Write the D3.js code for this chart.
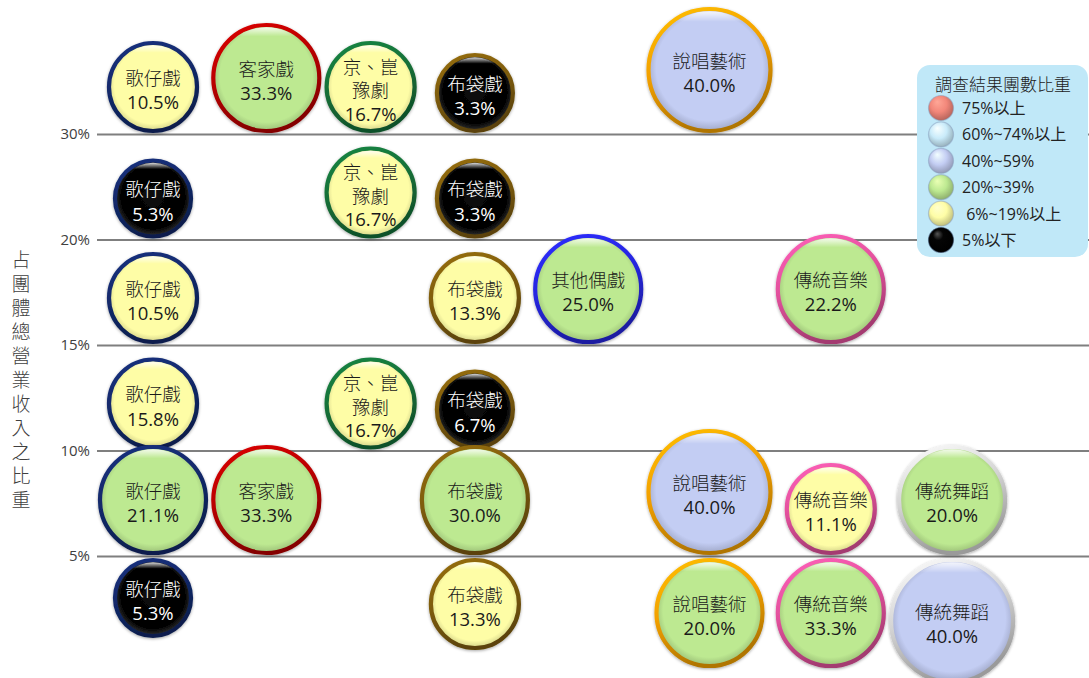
<!DOCTYPE html>
<html><head><meta charset="utf-8">
<script src="https://cdn.jsdelivr.net/npm/d3@7/dist/d3.min.js"></script>
<style>
html,body{margin:0;padding:0;background:#fff;}
svg{display:block;font-family:"Open Sans","Noto Sans CJK TC","Noto Sans",sans-serif;}
</style>
</head><body>
<svg id="chart" width="1089" height="678"></svg>
<script>
// ---------------- data ----------------
const genres = ["歌仔戲","客家戲","京、崑豫劇","布袋戲","其他偶戲","說唱藝術","傳統音樂","傳統舞蹈"];
const genreLines = [["歌仔戲"],["客家戲"],["京、崑","豫劇"],["布袋戲"],["其他偶戲"],["說唱藝術"],["傳統音樂"],["傳統舞蹈"]];
const bands = ["30%以上","20%~30%","15%~20%","10%~15%","5%~10%","5%以下"];
const tickLabels = ["30%","20%","15%","10%","5%"];
// share of groups (%) in each income band, top band first; null = no bubble
const gezaixi   = [10.5, 5.3, 10.5, 15.8, 21.1, 5.3];
const hakka     = [33.3, null, null, null, 33.3, null];
const pekingYu  = [16.7, 16.7, null, 16.7, null, null];
const budaixi   = [3.3, 3.3, 13.3, 6.7, 30.0, 13.3];
const otherPuppet = [null, null, 25.0, null, null, null];
const shuochang = [40.0, null, null, null, 40.0, 20.0];
const music     = [null, null, 22.2, null, 11.1, 33.3];
const dance     = [null, null, null, null, 20.0, 40.0];
const seriesValues = [gezaixi, hakka, pekingYu, budaixi, otherPuppet, shuochang, music, dance];
const legendTitle = "調查結果團數比重";
const legendLabels = ["75%以上","60%~74%以上","40%~59%","20%~39%"," 6%~19%以上","5%以下"];
const axisTitle = "占團體總營業收入之比重";

// ---------------- styles ----------------
const W = 1089, H = 678;
const plotLeft = 97;
const legendColors = ["#f2877a","#c9ebfa","#c3cdf3","#bde991","#fefda6","#000000"];
const genreColors = ["#12296a","#b80000","#167038","#7e5c0a","#2626e0","#f2a000","#e2509c","#d4d4d4"];
const catScale = d3.scaleThreshold().domain([7, 20, 40, 60, 75]).range([5, 4, 3, 2, 1, 0]);
const radiusByCat = d3.scaleOrdinal().domain([0,1,2,3,4,5]).range([70, 67, 63, 55, 46, 40]);

const svg = d3.select("#chart");
const defs = svg.append("defs");

const f = defs.append("filter").attr("id","shadow").attr("x","-20%").attr("y","-20%").attr("width","140%").attr("height","140%");
f.append("feDropShadow").attr("dx",0).attr("dy",1).attr("stdDeviation",1.6).attr("flood-color","#000").attr("flood-opacity",0.35);

legendColors.forEach((c, i) => {
  const g = defs.append("radialGradient").attr("id","fill"+i).attr("cx","50%").attr("cy","48%").attr("r","52%");
  const base = d3.color(c);
  if (i === 5) {
    g.append("stop").attr("offset","0%").attr("stop-color","#0a0a0a");
    g.append("stop").attr("offset","80%").attr("stop-color","#000");
    g.append("stop").attr("offset","100%").attr("stop-color","#333");
  } else {
    g.append("stop").attr("offset","0%").attr("stop-color",base.formatHex());
    g.append("stop").attr("offset","84%").attr("stop-color",base.formatHex());
    g.append("stop").attr("offset","100%").attr("stop-color",d3.color(c).darker(0.55).formatHex());
  }
  const s = defs.append("radialGradient").attr("id","sphere"+i).attr("cx","45%").attr("cy","40%").attr("r","60%").attr("fx","35%").attr("fy","25%");
  if (i === 5) {
    s.append("stop").attr("offset","0%").attr("stop-color","#555");
    s.append("stop").attr("offset","35%").attr("stop-color","#050505");
    s.append("stop").attr("offset","100%").attr("stop-color","#000");
  } else {
    s.append("stop").attr("offset","0%").attr("stop-color",d3.color(c).brighter(0.6).formatHex());
    s.append("stop").attr("offset","55%").attr("stop-color",base.formatHex());
    s.append("stop").attr("offset","100%").attr("stop-color",d3.color(c).darker(0.8).formatHex());
  }
});
genreColors.forEach((c, i) => {
  const g = defs.append("linearGradient").attr("id","stroke"+i).attr("x1","0").attr("y1","0").attr("x2","0.35").attr("y2","1");
  g.append("stop").attr("offset","0%").attr("stop-color",d3.color(c).brighter(0.5).formatHex());
  g.append("stop").attr("offset","50%").attr("stop-color",c);
  g.append("stop").attr("offset","100%").attr("stop-color",d3.color(c).darker(0.9).formatHex());
});
const gl = defs.append("linearGradient").attr("id","gloss").attr("x1","0").attr("y1","0").attr("x2","0").attr("y2","1");
gl.append("stop").attr("offset","0%").attr("stop-color","#fff").attr("stop-opacity",0.85);
gl.append("stop").attr("offset","9%").attr("stop-color","#fff").attr("stop-opacity",0.0);
gl.append("stop").attr("offset","100%").attr("stop-color","#fff").attr("stop-opacity",0);

// ---------------- scales ----------------
const y = d3.scalePoint().domain(tickLabels).range([134, 556]);

const bubbles = [];
seriesValues.forEach((vals, gi) => {
  vals.forEach((v, bi) => {
    if (v == null) return;
    const cat = catScale(v);
    bubbles.push({gi, bi, v, cat, r: radiusByCat(cat)});
  });
});
const colR = genres.map((g, gi) => d3.max(bubbles.filter(b => b.gi === gi), b => b.r));
const gap = 3.3;
const colX = [];
colR.forEach((r, i) => {
  colX.push(i === 0 ? plotLeft + 1 + r : colX[i-1] + colR[i-1] + gap + r);
});
const x = d3.scaleOrdinal().domain(genres).range(colX);

bubbles.forEach(b => {
  b.cx = x(genres[b.gi]);
  if (b.bi < tickLabels.length) b.cy = y(tickLabels[b.bi]) - b.r - 1;
  else b.cy = y(tickLabels[tickLabels.length - 1]) + b.r + 2;
});

// ---------------- axis / grid ----------------
const axis = d3.axisLeft(y).tickSizeInner(-(W - plotLeft)).tickSizeOuter(0).tickPadding(7);
const ag = svg.append("g").attr("transform",`translate(${plotLeft},0)`).call(axis);
ag.select(".domain").remove();
ag.selectAll(".tick line").attr("stroke","#7f7f7f").attr("stroke-width",2);
ag.selectAll(".tick text").attr("fill","#404040").style("font-size","15px").style("font-weight","400")
  .style("font-family",'"Open Sans","Noto Sans CJK TC",sans-serif');

// vertical axis title (single text, vertical writing mode)
svg.append("text")
  .attr("x", 21).attr("y", 382.5)
  .attr("text-anchor","middle")
  .style("writing-mode","vertical-rl")
  .style("glyph-orientation-vertical","0")
  .style("letter-spacing","5px")
  .style("font-family",'"Noto Sans CJK TC",sans-serif')
  .style("font-size","19px").style("font-weight","300")
  .attr("fill","#404040")
  .text(axisTitle);

// ---------------- bubbles ----------------
const bg = svg.append("g");
const node = bg.selectAll("g.b").data(bubbles).join("g").attr("class","b")
  .attr("transform", d => `translate(${d.cx},${d.cy})`);
node.append("circle").attr("r", d => d.r - 2)
  .attr("fill", d => `url(#fill${d.cat})`)
  .attr("stroke", d => `url(#stroke${d.gi})`).attr("stroke-width",4.2)
  .attr("filter","url(#shadow)");
node.append("circle").attr("r", d => d.r - 4.2).attr("fill","url(#gloss)");
node.each(function(d){
  const g = d3.select(this);
  const lines = genreLines[d.gi].concat([d.v.toFixed(1) + "%"]);
  const n = lines.length;
  const lh = n > 2 ? 23.5 : 24.5;
  const t = g.append("text").attr("text-anchor","middle")
    .attr("fill", d.cat === 5 ? "#ffffff" : "#1a1a1a")
    .style("font-size","18.5px");
  lines.forEach((s, i) => {
    t.append("tspan").attr("x",0).attr("y", (i - (n-1)/2) * lh + 2.5)
      .attr("dominant-baseline","central")
      .style("font-weight", i === n - 1 ? "400" : "300")
      .text(s);
  });
});

// ---------------- legend ----------------
const lg = svg.append("g").attr("transform","translate(917,65)");
lg.append("rect").attr("width",171).attr("height",192).attr("rx",13).attr("fill","#c0e8f8");
lg.append("text").attr("x",86).attr("y",19).attr("text-anchor","middle").attr("dominant-baseline","central")
  .attr("fill","#222").style("font-size","17px").style("font-weight","300").text(legendTitle);
const li = lg.selectAll("g.li").data(legendLabels).join("g").attr("class","li")
  .attr("transform",(d,i)=>`translate(24,${43 + i*26.4})`);
li.append("circle").attr("r",12.5).attr("fill",(d,i)=>`url(#sphere${i})`)
  .attr("stroke",(d,i)=> i===5 ? "#2a3a5a" : "#8aa0c0").attr("stroke-opacity",0.5).attr("stroke-width",1.2);
li.append("text").attr("x",21).attr("y",0).attr("dominant-baseline","central").attr("xml:space","preserve")
  .attr("fill","#222").style("font-size","16px").style("font-weight","400").text(d=>d);
</script>
</body></html>
